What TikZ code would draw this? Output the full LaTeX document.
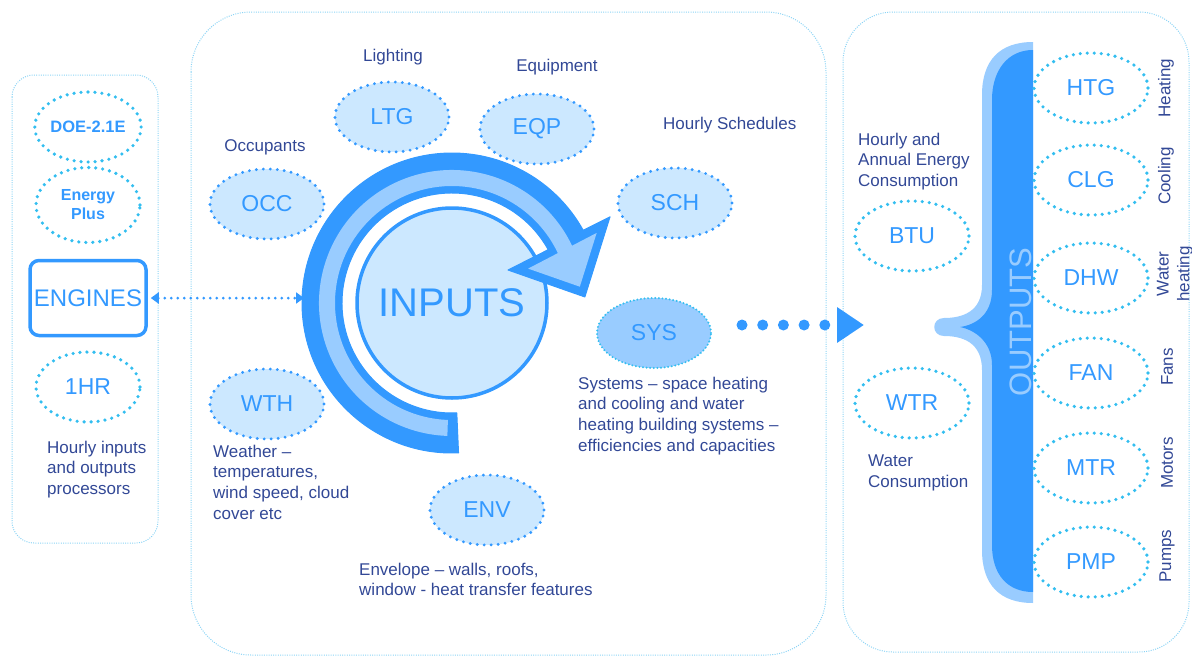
\documentclass[tikz,border=0pt]{standalone}
\usepackage{fontspec}
\setmainfont{Liberation Sans}
\usetikzlibrary{shapes.geometric, arrows.meta}
\definecolor{blueM}{RGB}{51,153,255}
\definecolor{blueL}{RGB}{153,204,255}
\definecolor{fillL}{RGB}{204,232,255}
\definecolor{cyanD}{RGB}{51,190,240}
\definecolor{navy}{RGB}{50,72,150}
\definecolor{panelC}{RGB}{140,212,245}
\begin{document}
\begin{tikzpicture}[x=1pt,y=-1pt,
  ell/.style={ellipse, minimum width=114pt, minimum height=70pt, inner sep=0pt,
    draw=cyanD, line width=3.6pt, dash pattern=on 0pt off 7pt, line cap=round,
    text=blueM, font=\fontsize{23}{25}\selectfont},
  cell/.style={ell, draw=blueM, fill=fillL, line width=3.2pt},
  lbl/.style={text=navy, font=\fontsize{17}{20.7}\selectfont, inner sep=0pt},
  desc/.style={lbl, align=left, anchor=north west},
  vlbl/.style={lbl, rotate=90, align=center},
  panel/.style={draw=panelC, line width=1pt, dash pattern=on 1pt off 1.3pt},
  dotarrow/.style={draw=blueM, line width=3pt, line cap=round, dash pattern=on 0pt off 6.5pt},
]
\useasboundingbox (0,0) rectangle (1192,659);

% panels
\draw[panel, rounded corners=22pt] (12,75) rectangle (158,543);
\draw[panel, rounded corners=60pt] (191,12) rectangle (826,655);
\draw[panel, rounded corners=50pt] (843,12) rectangle (1189,652);

% left panel
\node[ell, minimum width=104pt, font=\bfseries\fontsize{16.5}{18}\selectfont] (doe) at (88,127) {DOE-2.1E};
\node[ell, minimum width=104pt, minimum height=75pt, align=center, font=\bfseries\fontsize{16}{19}\selectfont] (eplus) at (88,205) {Energy\\Plus};
\node[draw=blueM, line width=3.5pt, rounded corners=9pt, minimum width=116pt, minimum height=75pt,
  text=blueM, font=\fontsize{24}{26}\selectfont, inner sep=0pt] (engines) at (88,298) {ENGINES};
\node[ell, minimum width=104pt] (hr) at (88,387) {1HR};
\node[desc] (hrtxt) at (47,440.5) {Hourly inputs\\and outputs\\processors};

% inputs circle
\node[circle, draw=blueM, line width=3.5pt, fill=fillL, minimum size=190pt, inner sep=0pt,
  text=blueM, font=\fontsize{40}{44}\selectfont] (inputs) at (452,303) {INPUTS};

% circular arrow
\begin{scope}[shift={(452,303)}]
  \filldraw[fill=blueM, draw=blueM, line width=1pt, line join=round]
    (87.5:150) arc[start angle=87.5, end angle=331, radius=150]
    -- (331.4:180) -- (357.4:133) -- (329.5:65) -- (331:110)
    arc[start angle=331, end angle=87.5, radius=110] -- cycle;
  \fill[blueL] (92:117) arc[start angle=92, end angle=336, radius=117]
    -- (336:133) arc[start angle=336, end angle=92, radius=133] -- cycle;
\end{scope}
\fill[blueL] (596.7,232.9) -- (579.8,286.7) -- (528.1,268.6) -- cycle;
\coordinate (arcleft) at (304,298);

% ENGINES <-> INPUTS
\draw[dotarrow, {Triangle[width=11pt,length=8pt]}-{Triangle[width=11pt,length=8pt]}]
  ([xshift=3pt]engines.east) -- (arcleft);

% center ellipses and labels
\node[lbl] (ltgl) at (393,57) {Lighting};
\node[cell] (ltg) at (392,117) {LTG};
\node[lbl] (eqpl) at (557,67) {Equipment};
\node[cell] (eqp) at (537,129) {EQP};
\node[lbl] (occl) at (265,147) {Occupants};
\node[cell] (occ) at (267,204) {OCC};
\node[lbl, anchor=west] (schl) at (663,125) {Hourly Schedules};
\node[cell] (sch) at (675,203) {SCH};
\node[cell] (wth) at (267,404) {WTH};
\node[desc] (wthl) at (213,444.5) {Weather --\\temperatures,\\wind speed, cloud\\cover etc};
\node[cell] (env) at (487,510) {ENV};
\node[desc] (envl) at (359,562.5) {Envelope -- walls, roofs,\\window - heat transfer features};
\node[ell, fill=blueL, draw=cyanD, line width=2.2pt, dash pattern=on 0pt off 3.6pt] (sys) at (654,333) {SYS};
\node[desc] (sysl) at (578,376.5) {Systems -- space heating\\and cooling and water\\heating building systems --\\efficiencies and capacities};

% big dotted arrow
\coordinate (dotstart) at (742,325);
\coordinate (bracetip) at (864,325);
\draw[blueM, line width=11pt, line cap=round, dash pattern=on 0pt off 20.7pt,
  -{Triangle[width=34pt,length=27pt]}] (dotstart) -- (bracetip);

% outputs brace
\fill[blueL] (1033,42) .. controls (1000,42) and (982,60) .. (982,95)
  -- (982,285) .. controls (982,312) and (962,318) .. (944,318)
  .. controls (931,318) and (931,336) .. (944,336)
  .. controls (962,336) and (982,342) .. (982,370)
  -- (982,550) .. controls (982,585) and (1000,603) .. (1033,603) -- cycle;
\fill[blueM] (1033,50) .. controls (1008,50) and (992,70) .. (992,100)
  -- (992,290) .. controls (992,315) and (975,325) .. (960,327)
  .. controls (975,330) and (992,342) .. (992,365)
  -- (992,545) .. controls (992,575) and (1008,592) .. (1033,592) -- cycle;
\node[rotate=90, text=blueL, font=\fontsize{31}{33}\selectfont, inner sep=0pt] (outputs) at (1021,322) {OUTPUTS};

% right panel left column
\node[desc] (btul) at (858,132.5) {Hourly and\\Annual Energy\\Consumption};
\node[ell] (btu) at (912,236) {BTU};
\node[ell] (wtr) at (912,403) {WTR};
\node[desc] (wtrl) at (868,454.5) {Water\\Consumption};

% right column
\node[ell] (htg) at (1091,88) {HTG};
\node[ell] (clg) at (1091,180) {CLG};
\node[ell] (dhw) at (1091,278) {DHW};
\node[ell] (fan) at (1091,373) {FAN};
\node[ell] (mtr) at (1091,468) {MTR};
\node[ell] (pmp) at (1091,562) {PMP};
\node[vlbl] (htgl) at (1166,88) {Heating};
\node[vlbl] (clgl) at (1166,176) {Cooling};
\node[vlbl] (dhwl) at (1175,274) {Water\\heating};
\node[vlbl] (fanl) at (1167,367) {Fans};
\node[vlbl] (mtrl) at (1167,463) {Motors};
\node[vlbl] (pmpl) at (1167,556) {Pumps};
\end{tikzpicture}
\end{document}
